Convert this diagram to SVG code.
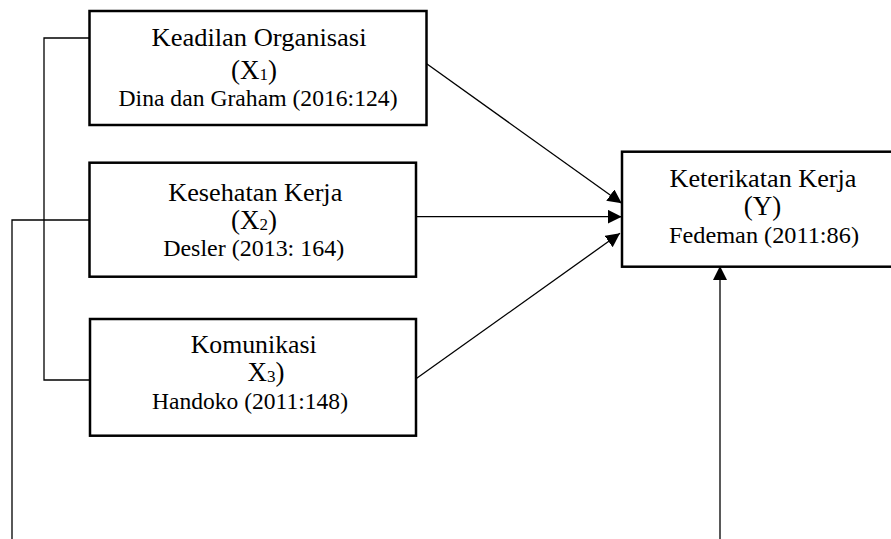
<svg xmlns="http://www.w3.org/2000/svg" width="891" height="539" viewBox="0 0 891 539">
<style>
.box{fill:#fff;stroke:#000;stroke-width:2.5}
.ln{fill:none;stroke:#000;stroke-width:1.3}
.tx{font-family:'Liberation Serif','Times New Roman',Times,serif;fill:#000;text-anchor:middle}
.t{font-size:26px}
.x{font-size:27px}
.c{font-size:23px}
.s{font-size:17px}
</style>
<defs>
<marker id="ah" markerUnits="userSpaceOnUse" markerWidth="15" markerHeight="15" refX="14" refY="7" orient="auto">
<path d="M0,0 L14,7 L0,14 z" fill="#000"/>
</marker>
</defs>
<rect width="891" height="539" fill="#fff"/>
<g id="connectors">
<polyline class="ln" points="89,38 44,38 44,380 90,380"/>
<polyline class="ln" points="89,220 12,220 12,539"/>
<line class="ln" x1="426" y1="63.3" x2="621.7" y2="203.3" marker-end="url(#ah)"/>
<line class="ln" x1="416" y1="216.7" x2="621.7" y2="216.7" marker-end="url(#ah)"/>
<line class="ln" x1="416.7" y1="378.3" x2="620" y2="233.3" marker-end="url(#ah)"/>
<line class="ln" x1="720" y1="539" x2="720" y2="266" marker-end="url(#ah)"/>
</g>
<g id="x1" class="tx" font-family="Liberation Serif, serif">
<rect class="box" x="89.5" y="11" width="337" height="114"/>
<text class="t" x="259" y="46" textLength="215" lengthAdjust="spacingAndGlyphs">Keadilan Organisasi</text>
<text class="x" x="254" y="79">(X<tspan class="s" dy="1">1</tspan><tspan dy="-1">)</tspan></text>
<text class="c" x="258" y="106" textLength="279" lengthAdjust="spacingAndGlyphs">Dina dan Graham (2016:124)</text>
</g>
<g id="x2" class="tx" font-family="Liberation Serif, serif">
<rect class="box" x="89.5" y="162.7" width="326.5" height="114"/>
<text class="t" x="255.3" y="200.7" textLength="174" lengthAdjust="spacingAndGlyphs">Kesehatan Kerja</text>
<text class="x" x="254" y="229.3">(X<tspan class="s" dy="1">2</tspan><tspan dy="-1">)</tspan></text>
<text class="c" x="253.7" y="256" textLength="181" lengthAdjust="spacingAndGlyphs">Desler (2013: 164)</text>
</g>
<g id="x3" class="tx" font-family="Liberation Serif, serif">
<rect class="box" x="90" y="319" width="326" height="116.7"/>
<text class="t" x="253.7" y="352.7" textLength="126" lengthAdjust="spacingAndGlyphs">Komunikasi</text>
<text class="x" x="266" y="381">X<tspan class="s" dy="1">3</tspan><tspan dy="-1">)</tspan></text>
<text class="c" x="250" y="409" textLength="196" lengthAdjust="spacingAndGlyphs">Handoko (2011:148)</text>
</g>
<g id="y" class="tx" font-family="Liberation Serif, serif">
<rect class="box" x="622" y="151.7" width="290" height="115"/>
<text class="t" x="763" y="186.7" textLength="187" lengthAdjust="spacingAndGlyphs">Keterikatan Kerja</text>
<text class="x" x="762.5" y="215">(Y)</text>
<text class="c" x="764" y="243" textLength="190" lengthAdjust="spacingAndGlyphs">Fedeman (2011:86)</text>
</g>
</svg>
